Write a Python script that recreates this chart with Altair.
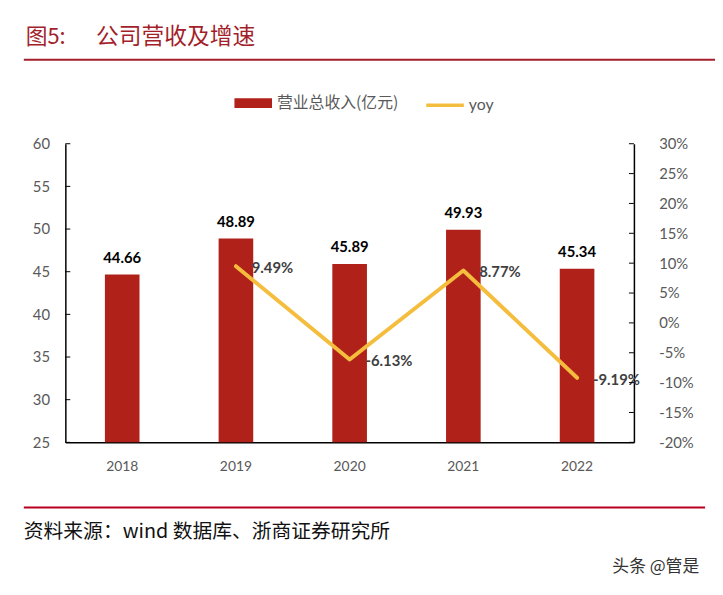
import altair as alt
import pandas as pd

years = ["2018", "2019", "2020", "2021", "2022"]
revenue = [44.66, 48.89, 45.89, 49.93, 45.34]
yoy = [None, 0.0949, -0.0613, 0.0877, -0.0919]
left_ticks = [25, 30, 35, 40, 45, 50, 55, 60]
right_ticks = [-0.20, -0.15, -0.10, -0.05, 0.0, 0.05, 0.10, 0.15, 0.20, 0.25, 0.30]
bar_name = "营业总收入(亿元)"
line_name = "yoy"
title_num = "图5:"
title_text = "公司营收及增速"
source_text = "资料来源：wind 数据库、浙商证券研究所"
watermark = "头条 @管是"

W, H = 575, 302
BAR = "#B0211A"
LINE = "#F5BD3D"
RED = "#A31F2C"
GREY = "#595959"
NUM_FONT = "Lato"
CJK = "Noto Sans CJK SC"
HYPHEN = "replace(datum.label, '\u2212', '-')"

df = pd.DataFrame({"year": years, "revenue": revenue, "yoy": yoy,
                   "s1": bar_name, "s2": line_name})
lt = pd.DataFrame({"v": left_ticks})
rt = pd.DataFrame({"v": right_ticks})

xenc = alt.X("year:N", scale=alt.Scale(paddingInner=0, paddingOuter=0),
             axis=alt.Axis(title=None, labelAngle=0, ticks=False, domainColor="black",
                           domainWidth=1.5, labelColor=GREY, labelFont=NUM_FONT,
                           labelFontSize=14, labelPadding=17))
yL = alt.Scale(domain=[25, 60], nice=False, zero=False)
yR = alt.Scale(domain=[-0.2, 0.3], nice=False, zero=False)

base = alt.Chart(df)

bars = base.mark_bar(size=35).encode(
    x=xenc,
    y=alt.Y("revenue:Q", scale=yL,
            axis=alt.Axis(title=None, orient="left", values=left_ticks, ticks=False,
                          grid=False, domainColor="black", domainWidth=1.5,
                          labelColor=GREY, labelFont=NUM_FONT, labelFontSize=15,
                          labelPadding=16)),
    y2=alt.datum(25),
    fill=alt.Fill("s1:N", scale=alt.Scale(range=[BAR]),
                  legend=alt.Legend(title=None, orient="none", legendX=171, legendY=-60,
                                    symbolType="M-1,-0.26H1V0.26H-1Z", symbolSize=1444,
                                    symbolStrokeWidth=0, symbolOpacity=1,
                                    labelFont=CJK, labelFontSize=16, labelColor=GREY,
                                    labelOffset=5, padding=0)),
)

bar_labels = base.mark_text(baseline="bottom", dy=-9, fontWeight="bold",
                            font=NUM_FONT, fontSize=15, color="#000000").encode(
    x=xenc,
    y=alt.Y("revenue:Q", scale=yL, axis=None),
    text=alt.Text("revenue:Q", format=".2f"),
)

line = base.transform_filter("isValid(datum.yoy)").mark_line(
    strokeWidth=4, strokeCap="round", strokeJoin="round").encode(
    x=xenc,
    y=alt.Y("yoy:Q", scale=yR,
            axis=alt.Axis(title=None, orient="right", values=right_ticks, format=".0%",
                          labelExpr=HYPHEN,
                          ticks=False, grid=False, domainColor="black", domainWidth=1.5,
                          labelColor=GREY, labelFont=NUM_FONT, labelFontSize=15,
                          labelPadding=25)),
    stroke=alt.Stroke("s2:N", scale=alt.Scale(range=[LINE]),
                      legend=alt.Legend(title=None, orient="none", legendX=363, legendY=-60,
                                        symbolType="stroke", symbolSize=1444,
                                        symbolStrokeWidth=3.5,
                                        labelFont=NUM_FONT, labelFontSize=16,
                                        labelColor=GREY, labelOffset=3, padding=0)),
)

line_labels = base.transform_filter("isValid(datum.yoy)").transform_calculate(
    lab="replace(format(datum.yoy, '.2%'), '\u2212', '-')"
).mark_text(
    align="left", baseline="middle", dx=16, dy=2, fontWeight="bold",
    font=NUM_FONT, fontSize=15, color="#404040").encode(
    x=xenc,
    y=alt.Y("yoy:Q", scale=yR, axis=None),
    text=alt.Text("lab:N"),
)

lticks = alt.Chart(lt).mark_rule(color="black", strokeWidth=1).encode(
    y=alt.Y("v:Q", scale=yL, axis=None), x=alt.value(0), x2=alt.value(5))
rticks = alt.Chart(rt).mark_rule(color="black", strokeWidth=1).encode(
    y=alt.Y("v:Q", scale=yR, axis=None), x=alt.value(W - 5), x2=alt.value(W))

one = pd.DataFrame({"k": [0]})
top_rule = alt.Chart(one).mark_rule(color=RED, strokeWidth=2).encode(
    x=alt.value(-42), x2=alt.value(660), y=alt.value(-85))
bottom_rule = alt.Chart(one).mark_rule(color="#B8001E", strokeWidth=2).encode(
    x=alt.value(-42), x2=alt.value(647), y=alt.value(368))

t1 = alt.Chart(pd.DataFrame({"t": [title_num]})).mark_text(
    align="left", baseline="middle", font=CJK, fontSize=22, color=RED).encode(
    text="t:N", x=alt.value(-40), y=alt.value(-108))
t2 = alt.Chart(pd.DataFrame({"t": [title_text]})).mark_text(
    align="left", baseline="middle", font=CJK, fontSize=23, color=RED).encode(
    text="t:N", x=alt.value(31), y=alt.value(-108))
src = alt.Chart(pd.DataFrame({"t": [source_text]})).mark_text(
    align="left", baseline="middle", font=CJK, fontSize=20, color="#111111").encode(
    text="t:N", x=alt.value(-42), y=alt.value(393))
wm = alt.Chart(pd.DataFrame({"t": [watermark]})).mark_text(
    align="right", baseline="middle", font=CJK, fontSize=17, color="#333333").encode(
    text="t:N", x=alt.value(641), y=alt.value(428))

chart = alt.layer(
    bars, bar_labels, line, line_labels, lticks, rticks,
    top_rule, bottom_rule, t1, t2, src, wm
).resolve_scale(
    y="independent", fill="independent", stroke="independent"
).properties(
    width=W, height=H,
    autosize=alt.AutoSizeParams(type="none"),
    padding={"left": 58, "top": 134, "right": 82, "bottom": 140},
    background="white",
).configure_view(stroke=None)

chart.save("out.html", embed_options={"renderer": "svg", "actions": False})
